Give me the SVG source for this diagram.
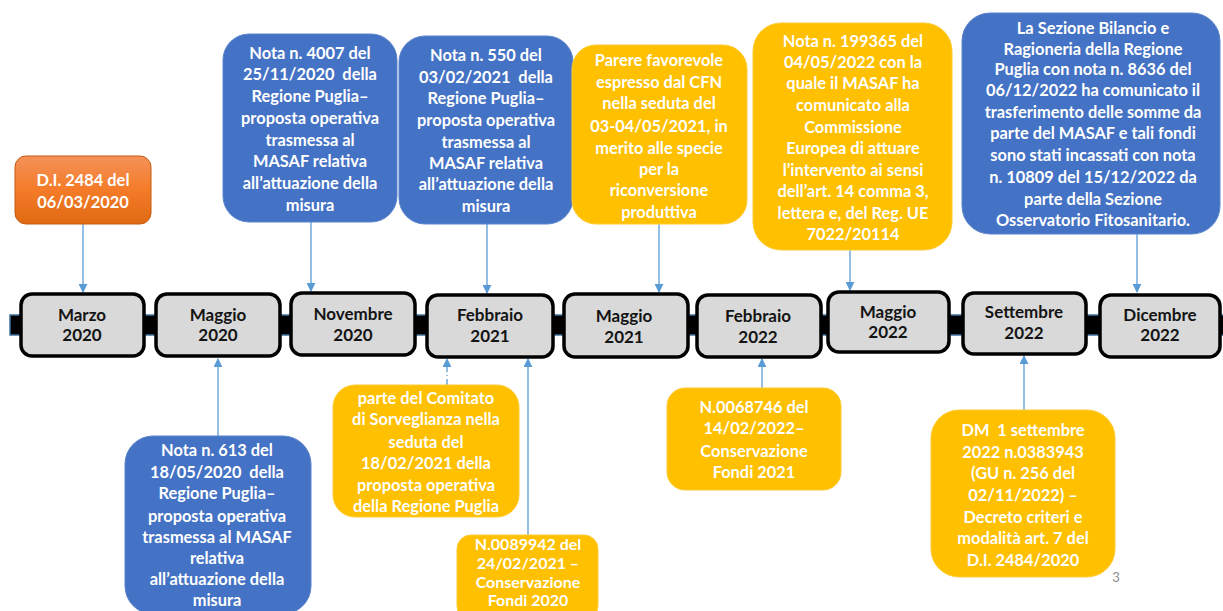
<svg xmlns="http://www.w3.org/2000/svg" width="1223" height="611" viewBox="0 0 1223 611">
<style>
.t{font-family:Lato,"Liberation Sans",sans-serif;font-weight:bold;font-size:16.4px;text-anchor:middle;white-space:pre}
.d{fill:#141414;font-size:17px}
.w{fill:#ffffff}
.tl{fill:#d9d9d9;stroke:#000;stroke-width:3.5}
.blue{fill:#4472c4;stroke:#5a84cc;stroke-width:1}
.yel{fill:#ffc000;stroke:#ffcb33;stroke-width:1}
.con{stroke:#5b9bd5;stroke-width:1.3;fill:none}
</style>
<defs>
<linearGradient id="og" x1="0" y1="0" x2="0" y2="1">
<stop offset="0" stop-color="#f49259"/>
<stop offset="0.5" stop-color="#f47b28"/>
<stop offset="1" stop-color="#e06a14"/>
</linearGradient>
<marker id="ah" viewBox="0 0 10 10" refX="9" refY="5" markerWidth="9" markerHeight="9" markerUnits="userSpaceOnUse" orient="auto">
<path d="M0,0 L10,5 L0,10 z" fill="#5b9bd5"/>
</marker>
</defs>
<rect width="1223" height="611" fill="#ffffff"/>

<g id="bar">
<rect x="10" y="315" width="1220" height="20" fill="#000" stroke="#41719c" stroke-width="1.5"/>
</g>

<g id="connectors">
<line class="con" x1="83" y1="224" x2="83" y2="292" marker-end="url(#ah)"/>
<line class="con" x1="311" y1="222" x2="311" y2="291" marker-end="url(#ah)"/>
<line class="con" x1="487" y1="224" x2="487" y2="293" marker-end="url(#ah)"/>
<line class="con" x1="659" y1="224" x2="659" y2="292" marker-end="url(#ah)"/>
<line class="con" x1="850" y1="250" x2="850" y2="290" marker-end="url(#ah)"/>
<line class="con" x1="1137" y1="234" x2="1137" y2="292" marker-end="url(#ah)"/>
<line class="con" x1="218" y1="436" x2="218" y2="359" marker-end="url(#ah)"/>
<line class="con" x1="447" y1="385" x2="447" y2="359" stroke-dasharray="6,3,1,3" marker-end="url(#ah)"/>
<line class="con" x1="528" y1="535" x2="528" y2="359" marker-end="url(#ah)"/>
<line class="con" x1="762" y1="388" x2="762" y2="359" marker-end="url(#ah)"/>
<line class="con" x1="1024" y1="410" x2="1024" y2="356" marker-end="url(#ah)"/>
</g>

<g id="tl-marzo2020">
<rect class="tl" x="21" y="294" width="123" height="62" rx="11"/>
<text class="t d"><tspan x="82" y="321">Marzo</tspan><tspan x="82" y="341">2020</tspan></text>
</g>
<g id="tl-maggio2020">
<rect class="tl" x="156" y="294" width="124" height="62" rx="11"/>
<text class="t d"><tspan x="218" y="321">Maggio</tspan><tspan x="218" y="341">2020</tspan></text>
</g>
<g id="tl-novembre2020">
<rect class="tl" x="291" y="293" width="124" height="62" rx="11"/>
<text class="t d"><tspan x="353" y="320">Novembre</tspan><tspan x="353" y="341">2020</tspan></text>
</g>
<g id="tl-febbraio2021">
<rect class="tl" x="427" y="295" width="126" height="62" rx="11"/>
<text class="t d"><tspan x="490" y="321">Febbraio</tspan><tspan x="490" y="342">2021</tspan></text>
</g>
<g id="tl-maggio2021">
<rect class="tl" x="564" y="294" width="124" height="63" rx="11"/>
<text class="t d"><tspan x="624" y="322">Maggio</tspan><tspan x="624" y="343">2021</tspan></text>
</g>
<g id="tl-febbraio2022">
<rect class="tl" x="697" y="295" width="124" height="62" rx="11"/>
<text class="t d"><tspan x="758" y="322">Febbraio</tspan><tspan x="758" y="343">2022</tspan></text>
</g>
<g id="tl-maggio2022">
<rect class="tl" x="828" y="292" width="121" height="60" rx="11"/>
<text class="t d"><tspan x="888" y="318">Maggio</tspan><tspan x="888" y="338">2022</tspan></text>
</g>
<g id="tl-settembre2022">
<rect class="tl" x="963" y="293" width="123" height="61" rx="11"/>
<text class="t d"><tspan x="1024" y="318">Settembre</tspan><tspan x="1024" y="339">2022</tspan></text>
</g>
<g id="tl-dicembre2022">
<rect class="tl" x="1100" y="295" width="120" height="62" rx="11"/>
<text class="t d"><tspan x="1160" y="321">Dicembre</tspan><tspan x="1160" y="341">2022</tspan></text>
</g>

<g id="n-di2484">
<rect x="15" y="156" width="136" height="68" rx="11" fill="url(#og)" stroke="#c55a11" stroke-width="1"/>
<text class="t w"><tspan x="83" y="186">D.I. 2484 del</tspan><tspan x="83" y="208">06/03/2020</tspan></text>
</g>

<g id="n-nota4007">
<rect class="blue" x="223" y="34" width="174" height="188" rx="26"/>
<text class="t w"><tspan x="310" y="59">Nota n. 4007 del</tspan><tspan x="310" y="80">25/11/2020  della</tspan><tspan x="310" y="102">Regione Puglia–</tspan><tspan x="310" y="124">proposta operativa</tspan><tspan x="310" y="146">trasmessa al</tspan><tspan x="310" y="167">MASAF relativa</tspan><tspan x="310" y="189">all’attuazione della</tspan><tspan x="310" y="211">misura</tspan></text>
</g>

<g id="n-nota550">
<rect class="blue" x="399" y="36" width="174" height="188" rx="26"/>
<text class="t w"><tspan x="486" y="61">Nota n. 550 del</tspan><tspan x="486" y="83">03/02/2021  della</tspan><tspan x="486" y="104">Regione Puglia–</tspan><tspan x="486" y="126">proposta operativa</tspan><tspan x="486" y="148">trasmessa al</tspan><tspan x="486" y="169">MASAF relativa</tspan><tspan x="486" y="190">all’attuazione della</tspan><tspan x="486" y="212">misura</tspan></text>
</g>

<g id="n-parere">
<rect class="yel" x="572" y="45" width="175" height="179" rx="24"/>
<text class="t w"><tspan x="659" y="66">Parere favorevole</tspan><tspan x="659" y="88">espresso dal CFN</tspan><tspan x="659" y="109">nella seduta del</tspan><tspan x="659" y="132">03-04/05/2021, in</tspan><tspan x="659" y="154">merito alle specie</tspan><tspan x="659" y="175">per la</tspan><tspan x="659" y="196">riconversione</tspan><tspan x="659" y="218">produttiva</tspan></text>
</g>

<g id="n-nota199365">
<rect class="yel" x="753" y="23" width="199" height="227" rx="28"/>
<text class="t w"><tspan x="853" y="47">Nota n. 199365 del</tspan><tspan x="853" y="68">04/05/2022 con la</tspan><tspan x="853" y="89">quale il MASAF ha</tspan><tspan x="853" y="111">comunicato alla</tspan><tspan x="853" y="133">Commissione</tspan><tspan x="853" y="154">Europea di attuare</tspan><tspan x="853" y="176">l’intervento ai sensi</tspan><tspan x="853" y="197">dell’art. 14 comma 3,</tspan><tspan x="853" y="219">lettera e, del Reg. UE</tspan><tspan x="853" y="240">7022/20114</tspan></text>
</g>

<g id="n-sezione">
<rect class="blue" x="962" y="13" width="258" height="221" rx="28"/>
<text class="t w"><tspan x="1093" y="34">La Sezione Bilancio e</tspan><tspan x="1093" y="55">Ragioneria della Regione</tspan><tspan x="1093" y="75">Puglia con nota n. 8636 del</tspan><tspan x="1093" y="96">06/12/2022 ha comunicato il</tspan><tspan x="1093" y="118">trasferimento delle somme da</tspan><tspan x="1093" y="139">parte del MASAF e tali fondi</tspan><tspan x="1093" y="161">sono stati incassati con nota</tspan><tspan x="1093" y="183">n. 10809 del 15/12/2022 da</tspan><tspan x="1093" y="205">parte della Sezione</tspan><tspan x="1093" y="226">Osservatorio Fitosanitario.</tspan></text>
</g>

<g id="n-nota613">
<rect class="blue" x="125" y="436" width="186" height="178" rx="28"/>
<text class="t w"><tspan x="217" y="456">Nota n. 613 del</tspan><tspan x="217" y="478">18/05/2020  della</tspan><tspan x="217" y="499">Regione Puglia–</tspan><tspan x="217" y="522">proposta operativa</tspan><tspan x="217" y="543">trasmessa al MASAF</tspan><tspan x="217" y="564">relativa</tspan><tspan x="217" y="585">all’attuazione della</tspan><tspan x="217" y="606">misura</tspan></text>
</g>

<g id="n-comitato">
<rect class="yel" x="333" y="385" width="186" height="132" rx="22"/>
<text class="t w"><tspan x="426" y="404">parte del Comitato</tspan><tspan x="426" y="425">di Sorveglianza nella</tspan><tspan x="426" y="448">seduta del</tspan><tspan x="426" y="469">18/02/2021 della</tspan><tspan x="426" y="491">proposta operativa</tspan><tspan x="426" y="512">della Regione Puglia</tspan></text>
</g>

<g id="n-n0089942">
<rect class="yel" x="457" y="535" width="141" height="85" rx="14"/>
<text class="t w" style="font-size:16px"><tspan x="528" y="550">N.0089942 del</tspan><tspan x="528" y="569">24/02/2021 –</tspan><tspan x="528" y="588">Conservazione</tspan><tspan x="528" y="606">Fondi 2020</tspan></text>
</g>

<g id="n-n0068746">
<rect class="yel" x="667" y="388" width="174" height="102" rx="18"/>
<text class="t w"><tspan x="754" y="413">N.0068746 del</tspan><tspan x="754" y="434">14/02/2022–</tspan><tspan x="754" y="457">Conservazione</tspan><tspan x="754" y="478">Fondi 2021</tspan></text>
</g>

<g id="n-dm">
<rect class="yel" x="931" y="410" width="184" height="167" rx="28"/>
<text class="t w"><tspan x="1023" y="436">DM  1 settembre</tspan><tspan x="1023" y="458">2022 n.0383943</tspan><tspan x="1023" y="479">(GU n. 256 del</tspan><tspan x="1023" y="501">02/11/2022) –</tspan><tspan x="1023" y="523">Decreto criteri e</tspan><tspan x="1023" y="544">modalità art. 7 del</tspan><tspan x="1023" y="566">D.I. 2484/2020</tspan></text>
</g>

<text x="1116" y="582" font-family="Lato,'Liberation Sans',sans-serif" font-size="13" fill="#8c8c8c" text-anchor="middle">3</text>
</svg>
